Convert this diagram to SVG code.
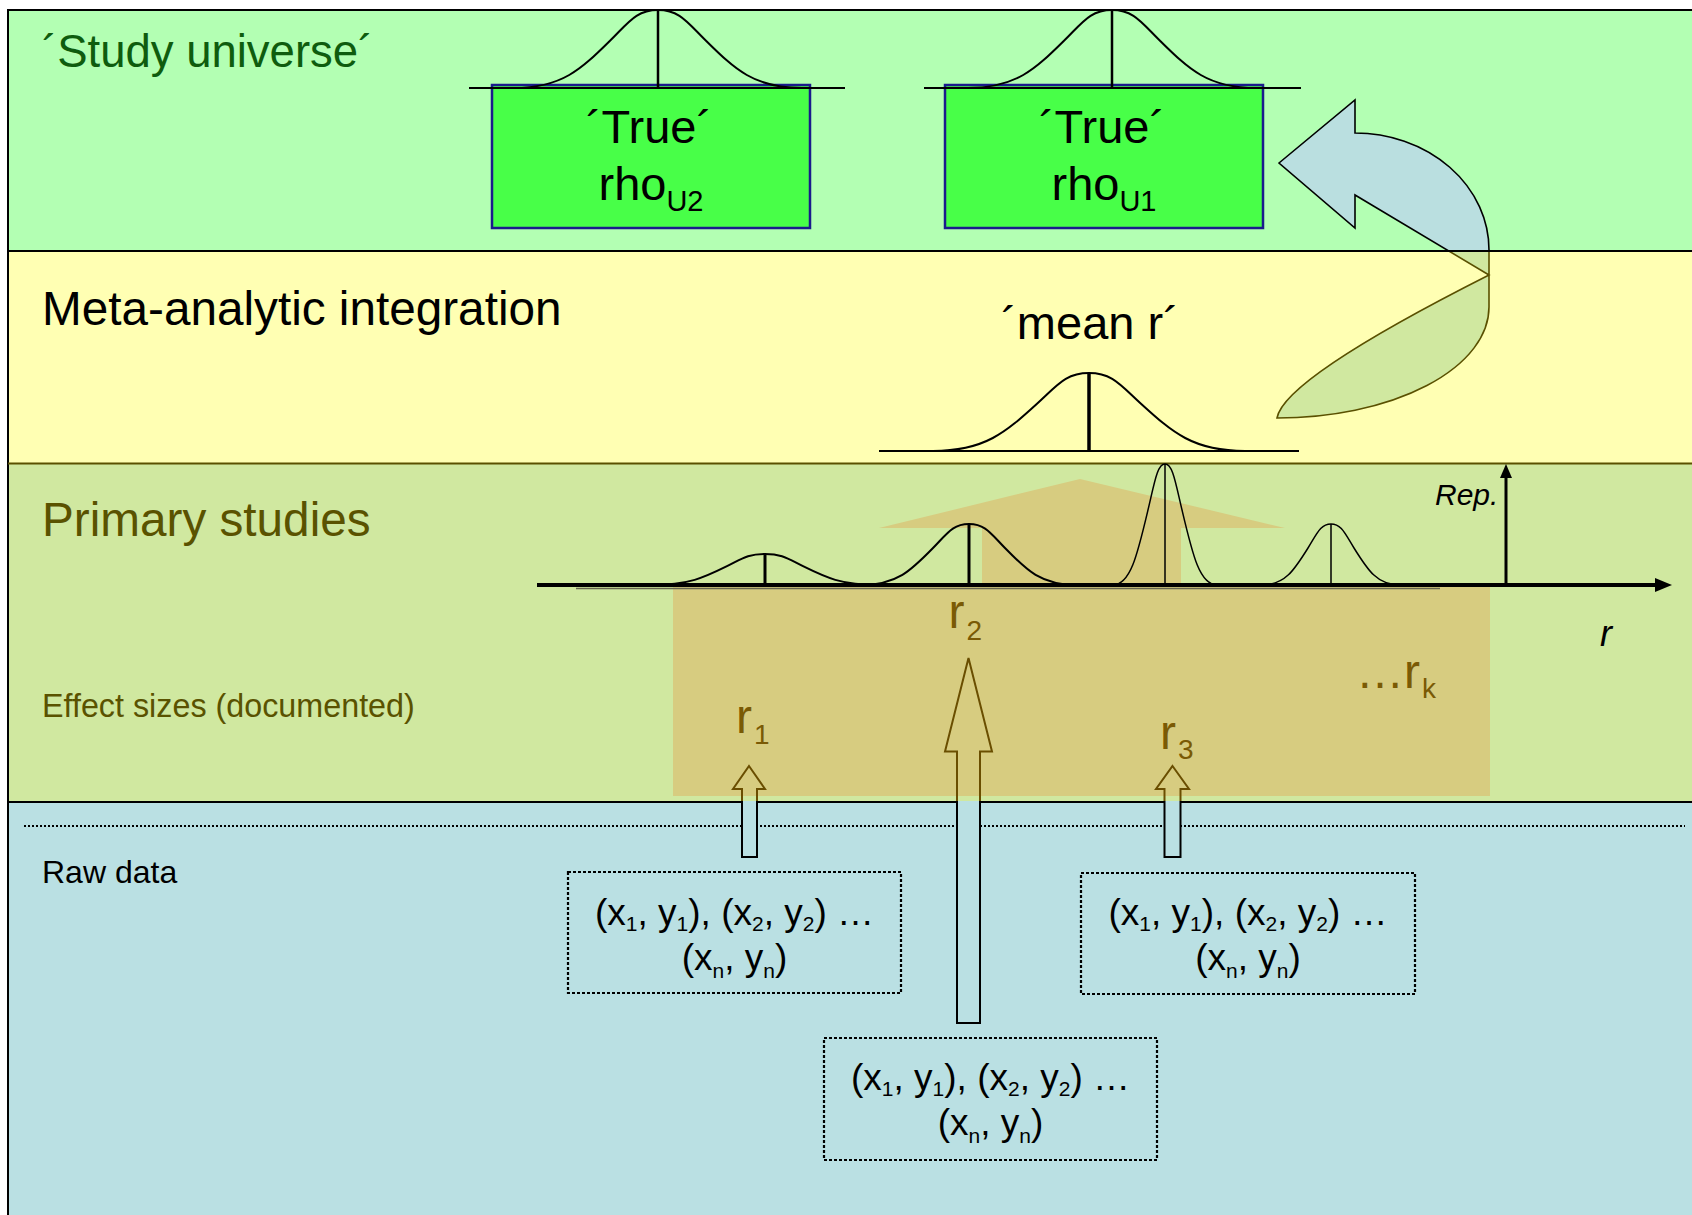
<svg xmlns="http://www.w3.org/2000/svg" width="1692" height="1215" viewBox="0 0 1692 1215">
<style>
text{font-family:"Liberation Sans",Arial,sans-serif}
.title{font-size:47.7px}
.olive{fill:#5A5200}
.rlab{font-size:48px;fill:#7A5A05}
.sub{font-size:28px}
.data{font-size:37px;fill:#000;text-anchor:middle}
.dsub{font-size:21px}
.gc{fill:none;stroke:#000;stroke-width:2}
.gt{fill:none;stroke:#000;stroke-width:1.5}
.dbox{fill:none;stroke:#000;stroke-width:2.2;stroke-dasharray:3 2}
.tbox{fill:#48FF48;stroke:#1A1A8C;stroke-width:2.5}
.true{font-size:47px;text-anchor:middle;fill:#000}
</style>
<defs>
<clipPath id="topClip"><rect x="0" y="0" width="1692" height="251"/></clipPath>
<clipPath id="midClip"><rect x="0" y="251" width="1692" height="300"/></clipPath>
<clipPath id="aboveRaw"><rect x="0" y="0" width="1692" height="801"/></clipPath>
<clipPath id="inRaw"><rect x="0" y="801" width="1692" height="414"/></clipPath>
<path id="curvedArrow" d="M1279,163 L1355,100 L1355,133 A134,117 0 0 1 1489,250 L1489,307 A212,111 0 0 1 1277,418 C1283,385 1390,325 1489,275 L1355,195 L1355,228 Z"/>
<path id="arrR1" d="M749,766 L765,789 L757,789 L757,857 L742,857 L742,789 L733,789 Z"/>
<path id="arrR2" d="M968.5,658 L992,751.5 L980,751.5 L980,1023 L957,1023 L957,751.5 L945,751.5 Z"/>
<path id="arrR3" d="M1172.5,766 L1189,789 L1180.5,789 L1180.5,857 L1164.5,857 L1164.5,789 L1156,789 Z"/>
</defs>

<!-- bands -->
<g id="bands">
<rect x="8" y="10" width="1684" height="241" fill="#B3FFB3"/>
<rect x="8" y="251" width="1684" height="212.5" fill="#FFFFB3"/>
<rect x="8" y="463.5" width="1684" height="338.5" fill="#D0E8A0"/>
<rect x="8" y="802" width="1684" height="413" fill="#BAE0E3"/>
</g>

<!-- curved arrow (from mean r back to study universe) -->
<g id="curved-arrow">
<use href="#curvedArrow" clip-path="url(#topClip)" fill="#BADFE0" stroke="#000" stroke-width="1.6"/>
<use href="#curvedArrow" clip-path="url(#midClip)" fill="#D0E8A0" stroke="#5A5000" stroke-width="1.6"/>
</g>

<g id="band-lines">
<line x1="8" y1="10" x2="1692" y2="10" stroke="#000" stroke-width="2"/>
<line x1="8" y1="9" x2="8" y2="1215" stroke="#000" stroke-width="2"/>
<line x1="8" y1="251" x2="1692" y2="251" stroke="#000" stroke-width="2"/>
<line x1="8" y1="463.5" x2="1692" y2="463.5" stroke="#5A5000" stroke-width="2"/>
<line x1="8" y1="802" x2="1692" y2="802" stroke="#000" stroke-width="2"/>
<line x1="24" y1="826" x2="1685" y2="826" stroke="#000" stroke-width="2" stroke-dasharray="2 2"/>
</g>

<!-- band labels -->
<g id="labels">
<text x="42" y="67" font-size="45.5" fill="#0E5C0E">´Study universe´</text>
<text x="42" y="325" class="title" fill="#000">Meta-analytic integration</text>
<text x="42" y="536" class="title olive">Primary studies</text>
<text x="42" y="717" font-size="32.3" class="olive">Effect sizes (documented)</text>
<text x="42" y="883" font-size="32" fill="#000">Raw data</text>
</g>

<!-- true rho U2 -->
<g id="rhoU2">
<rect class="tbox" x="492" y="85" width="318" height="143"/>
<line x1="469" y1="88" x2="845" y2="88" stroke="#000" stroke-width="1.8"/>
<path class="gc" d="M514,88 C562,88 581.2,69.1 610,40.7 C629.2,21.8 636.4,10 658,10 C679.6,10 686.8,21.8 706,40.7 C734.8,69.1 754,88 802,88"/>
<line x1="658" y1="10" x2="658" y2="88" stroke="#000" stroke-width="2.5"/>
<text class="true" x="649" y="143">´True´</text>
<text class="true" x="651" y="200">rho<tspan font-size="29" dy="11">U2</tspan></text>
</g>

<!-- true rho U1 -->
<g id="rhoU1">
<rect class="tbox" x="945" y="85" width="318" height="143"/>
<line x1="924" y1="88" x2="1301" y2="88" stroke="#000" stroke-width="1.8"/>
<path class="gc" d="M968,88 C1016,88 1035.2,69.1 1064,40.7 C1083.2,21.8 1090.4,10 1112,10 C1133.6,10 1140.8,21.8 1160,40.7 C1188.8,69.1 1208,88 1256,88"/>
<line x1="1112" y1="10" x2="1112" y2="88" stroke="#000" stroke-width="2.5"/>
<text class="true" x="1102" y="143">´True´</text>
<text class="true" x="1104" y="200">rho<tspan font-size="29" dy="11">U1</tspan></text>
</g>

<!-- mean r -->
<g id="mean-r">
<text x="1090" y="339" font-size="47" text-anchor="middle" fill="#000">´mean r´</text>
<line x1="879" y1="451" x2="1299" y2="451" stroke="#000" stroke-width="2"/>
<path class="gc" d="M933,451 C985,451 1005.8,432.1 1037,403.7 C1057.8,384.8 1065.6,373 1089,373 C1112.4,373 1120.2,384.8 1141,403.7 C1172.2,432.1 1193,451 1245,451"/>
<line x1="1089" y1="373" x2="1089" y2="451" stroke="#000" stroke-width="3.5"/>
</g>

<!-- integration overlay -->
<g id="integration-overlay">
<polygon points="673,587 982,587 982,528 879,528 1080,479 1285,528 1181,528 1181,587 1490,587 1490,796 673,796" fill="#D7CC80"/>
</g>

<!-- primary study distributions -->
<g id="primary-distributions">
<line x1="576" y1="588.5" x2="1440" y2="588.5" stroke="#666650" stroke-width="1.5"/>
<path class="gc" d="M651,585 C689,585 704.2,577.5 727,566.2 C742.2,558.7 747.9,554 765,554 C782.1,554 787.8,558.7 803,566.2 C825.8,577.5 841,585 879,585"/>
<line x1="765" y1="554" x2="765" y2="585" stroke="#000" stroke-width="3"/>
<path class="gc" d="M861,585 C897,585 911.4,570.2 933,548 C947.4,533.2 952.8,524 969,524 C985.2,524 990.6,533.2 1005,548 C1026.6,570.2 1041,585 1077,585"/>
<line x1="969" y1="524" x2="969" y2="585" stroke="#000" stroke-width="3"/>
<path class="gt" d="M1112.8,585 C1130.2,585 1137.2,555.6 1147.6,511.6 C1154.6,482.3 1157.2,464 1165,464 C1172.8,464 1175.4,482.3 1182.4,511.6 C1192.8,555.6 1199.8,585 1217.2,585"/>
<line x1="1165" y1="464" x2="1165" y2="585" stroke="#000" stroke-width="1.5"/>
<path class="gt" d="M1262,585 C1285,585 1294.2,570.2 1308,548 C1317.2,533.2 1320.65,524 1331,524 C1341.35,524 1344.8,533.2 1354,548 C1367.8,570.2 1377,585 1400,585"/>
<line x1="1331" y1="524" x2="1331" y2="585" stroke="#000" stroke-width="1.5"/>
</g>

<!-- axes -->
<g id="axes">
<line x1="537" y1="585" x2="1658" y2="585" stroke="#000" stroke-width="4"/>
<polygon points="1672,585 1655,578 1655,592" fill="#000"/>
<line x1="1506" y1="585" x2="1506" y2="476" stroke="#000" stroke-width="3"/>
<polygon points="1506,464 1500,478 1512,478" fill="#000"/>
<text x="1435" y="505" font-size="30" font-style="italic" fill="#000">Rep.</text>
<text x="1600" y="646" font-size="36" font-style="italic" fill="#000">r</text>
</g>

<!-- effect size labels -->
<g id="effect-sizes">
<text class="rlab" x="736" y="733">r<tspan class="sub" dx="2" dy="11">1</tspan></text>
<text class="rlab" x="948.5" y="628">r<tspan class="sub" dx="2" dy="12">2</tspan></text>
<text class="rlab" x="1160" y="749">r<tspan class="sub" dx="2" dy="10">3</tspan></text>
<text class="rlab" x="1356" y="688" font-size="46">…r<tspan class="sub" dx="2" dy="10">k</tspan></text>
</g>

<!-- raw data boxes -->
<g id="raw1">
<rect class="dbox" x="568" y="872" width="333" height="121"/>
<text class="data" x="734.5" y="925">(x<tspan class="dsub" dy="6">1</tspan><tspan dy="-6">, y</tspan><tspan class="dsub" dy="6">1</tspan><tspan dy="-6">), (x</tspan><tspan class="dsub" dy="6">2</tspan><tspan dy="-6">, y</tspan><tspan class="dsub" dy="6">2</tspan><tspan dy="-6">) …</tspan></text>
<text class="data" x="734.5" y="970">(x<tspan class="dsub" dy="8">n</tspan><tspan dy="-8">, y</tspan><tspan class="dsub" dy="8">n</tspan><tspan dy="-8">)</tspan></text>
</g>
<g id="raw2">
<rect class="dbox" x="824" y="1038" width="333" height="122"/>
<text class="data" x="990.5" y="1090">(x<tspan class="dsub" dy="6">1</tspan><tspan dy="-6">, y</tspan><tspan class="dsub" dy="6">1</tspan><tspan dy="-6">), (x</tspan><tspan class="dsub" dy="6">2</tspan><tspan dy="-6">, y</tspan><tspan class="dsub" dy="6">2</tspan><tspan dy="-6">) …</tspan></text>
<text class="data" x="990.5" y="1135">(x<tspan class="dsub" dy="8">n</tspan><tspan dy="-8">, y</tspan><tspan class="dsub" dy="8">n</tspan><tspan dy="-8">)</tspan></text>
</g>
<g id="raw3">
<rect class="dbox" x="1081" y="873" width="334" height="121"/>
<text class="data" x="1248" y="925">(x<tspan class="dsub" dy="6">1</tspan><tspan dy="-6">, y</tspan><tspan class="dsub" dy="6">1</tspan><tspan dy="-6">), (x</tspan><tspan class="dsub" dy="6">2</tspan><tspan dy="-6">, y</tspan><tspan class="dsub" dy="6">2</tspan><tspan dy="-6">) …</tspan></text>
<text class="data" x="1248" y="970">(x<tspan class="dsub" dy="8">n</tspan><tspan dy="-8">, y</tspan><tspan class="dsub" dy="8">n</tspan><tspan dy="-8">)</tspan></text>
</g>

<!-- connectors -->
<g id="connectors">
<use href="#arrR1" clip-path="url(#aboveRaw)" fill="none" stroke="#6A4E00" stroke-width="2"/>
<use href="#arrR1" clip-path="url(#inRaw)" fill="#BAE0E3" stroke="#000" stroke-width="2"/>
<use href="#arrR2" clip-path="url(#aboveRaw)" fill="none" stroke="#6A4E00" stroke-width="2"/>
<use href="#arrR2" clip-path="url(#inRaw)" fill="#BAE0E3" stroke="#000" stroke-width="2"/>
<use href="#arrR3" clip-path="url(#aboveRaw)" fill="none" stroke="#6A4E00" stroke-width="2"/>
<use href="#arrR3" clip-path="url(#inRaw)" fill="#BAE0E3" stroke="#000" stroke-width="2"/>
</g>
</svg>
